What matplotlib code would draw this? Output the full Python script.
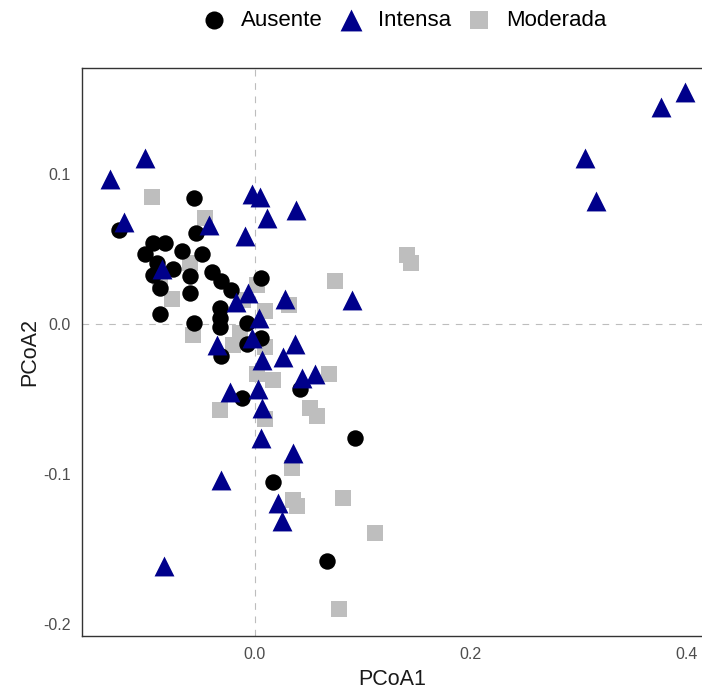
import matplotlib
matplotlib.use("Agg")
import matplotlib.pyplot as plt

plt.rcParams['font.family'] = ['Liberation Sans', 'DejaVu Sans']

# coordenadas PCoA por grupo
aus_x = [-0.126, -0.056, -0.054, -0.102, -0.094, -0.083, -0.067, -0.049, -0.091, -0.076,
         -0.094, -0.060, -0.088, -0.060, -0.040, -0.031, -0.022, 0.006, -0.088, -0.056,
         -0.032, -0.032, -0.032, -0.007, 0.006, -0.007, -0.031, -0.012, 0.042, 0.093,
         0.017, 0.067]
aus_y = [0.063, 0.084, 0.061, 0.047, 0.054, 0.054, 0.049, 0.047, 0.041, 0.037,
         0.033, 0.032, 0.024, 0.021, 0.035, 0.029, 0.023, 0.031, 0.007, 0.001,
         0.011, 0.004, -0.002, 0.001, -0.009, -0.013, -0.021, -0.049, -0.043, -0.076,
         -0.105, -0.158]

int_x = [-0.134, -0.102, -0.121, -0.084, -0.042, -0.031, -0.009, -0.003, 0.005, 0.011,
         0.038, -0.017, -0.006, 0.028, 0.090, 0.004, -0.035, 0.007, 0.037, 0.026,
         0.044, 0.056, -0.023, 0.003, 0.007, 0.006, 0.035, 0.021, 0.025, -0.086,
         -0.003, 0.306, 0.316, 0.376, 0.398]
int_y = [0.097, 0.111, 0.068, -0.161, 0.066, -0.104, 0.059, 0.087, 0.085, 0.071,
         0.076, 0.015, 0.021, 0.017, 0.016, 0.004, -0.014, -0.024, -0.013, -0.022,
         -0.036, -0.033, -0.045, -0.043, -0.056, -0.076, -0.086, -0.119, -0.131, 0.037,
         -0.009, 0.111, 0.082, 0.145, 0.155]

mod_x = [-0.095, -0.046, -0.088, -0.077, -0.060, -0.057, -0.014, -0.020, 0.002, 0.009,
         0.032, -0.011, 0.002, 0.017, 0.069, -0.032, 0.009, 0.051, 0.058, 0.034,
         0.035, 0.039, 0.082, 0.111, 0.078, 0.074, 0.141, 0.145, 0.009]
mod_y = [0.085, 0.071, 0.027, 0.017, 0.041, -0.007, -0.006, -0.014, 0.026, 0.009,
         0.013, 0.016, -0.033, -0.037, -0.033, -0.057, -0.063, -0.056, -0.061, -0.096,
         -0.117, -0.121, -0.116, -0.139, -0.190, 0.029, 0.046, 0.041, -0.015]

fig = plt.figure(figsize=(7.02, 6.91), dpi=100)
ax = fig.add_axes([82/702, (691-636)/691, 1 - 82/702, (636-68)/691])

ax.axhline(0, color="#BDBDBD", lw=0.8, dashes=(6, 6), zorder=1)
ax.axvline(0, color="#BDBDBD", lw=0.8, dashes=(6, 6), zorder=1)

ax.scatter(mod_x, mod_y, marker="s", s=130, color="#BEBEBE", linewidths=0, label="Moderada", zorder=2)
ax.scatter(aus_x, aus_y, marker="o", s=140, color="black", linewidths=0, label="Ausente", zorder=3)
ax.scatter(int_x, int_y, marker="^", s=205, color="#00008B", linewidths=0, label="Intensa", zorder=4)

ax.set_xlim(-0.160, 0.414)
ax.set_ylim(-0.208, 0.1707)
ax.set_xticks([0.0, 0.2, 0.4])
ax.set_yticks([-0.2, -0.1, 0.0, 0.1])
ax.set_xticklabels(["0.0", "0.2", "0.4"])
ax.set_yticklabels(["-0.2", "-0.1", "0.0", "0.1"])
ax.tick_params(length=0, labelsize=11.5, labelcolor="#4D4D4D", pad=8)

for s in ax.spines.values():
    s.set_color("#333333")
    s.set_linewidth(1.0)
ax.spines["right"].set_visible(False)

ax.set_xlabel("PCoA1", fontsize=15.5, color="#1A1A1A", labelpad=5)
ax.set_ylabel("PCoA2", fontsize=15.5, color="#1A1A1A", labelpad=2)

h, l = ax.get_legend_handles_labels()
orden = [1, 2, 0]
fig.legend([h[i] for i in orden], [l[i] for i in orden], loc="center", ncol=3,
           bbox_to_anchor=(0.5745, 0.970), frameon=False, fontsize=16,
           handletextpad=0.62, columnspacing=0.66, handlelength=1.2, markerscale=1.1)

plt.savefig("out.png", dpi=100)
